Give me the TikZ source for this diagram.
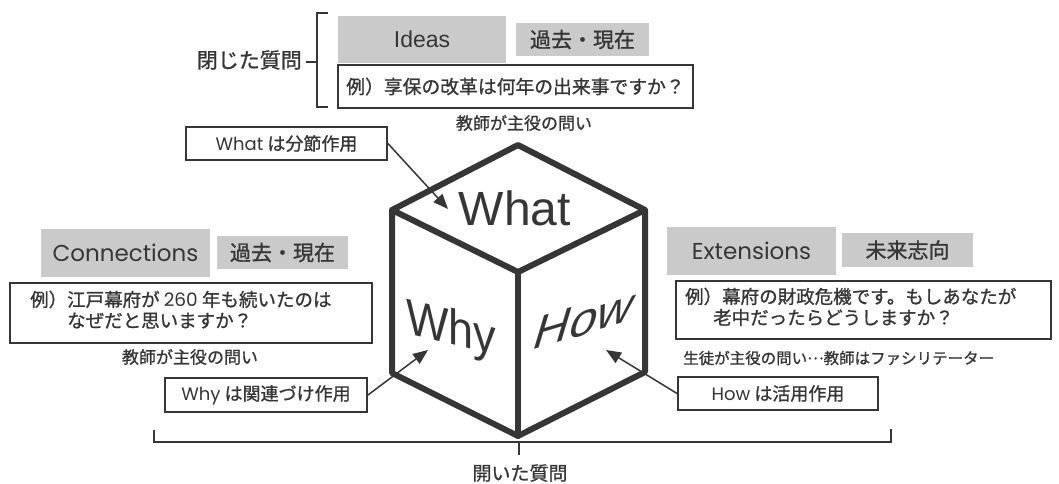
\documentclass[tikz,border=0pt]{standalone}
\usepackage{fontspec}
\setmainfont{Noto Sans CJK JP}[FakeBold=1.0]
\newfontfamily\pop{Poppins}
\newfontfamily\ari{Liberation Sans}
\usetikzlibrary{arrows.meta}
\definecolor{ink}{HTML}{363636}
\definecolor{boxgray}{HTML}{CACACA}
\newcommand{\fs}[1]{\fontsize{#1}{#1}\selectfont}
\begin{document}
\begin{tikzpicture}[x=1pt,y=-1pt,
  every node/.style={text=ink, inner sep=0pt},
  graybox/.style={fill=boxgray, draw=none},
  linebox/.style={draw=ink, line width=1.8pt, fill=white},
  conn/.style={draw=ink, line width=1.6pt},
  arr/.style={draw=ink, line width=1.5pt, -{Triangle[length=15pt,width=12pt]}},
  cube/.style={draw=ink, line width=6pt, line join=round, line cap=round},
  exline/.style={anchor=west, text height=14, text depth=3},
]
\useasboundingbox (0,0) rectangle (1059,483);

% ---------- top: closed question ----------
\node[graybox, minimum width=168, minimum height=47] (ideas) at (422,39.5) {\ari\fs{23}Ideas};
\node[graybox, minimum width=133, minimum height=33] (ideastime) at (582.5,39.5) {\fs{21}過去・現在};
\node[linebox, minimum width=355, minimum height=43] (ideasex) at (515.5,86.5) {\fs{18.8}例）享保の改革は何年の出来事ですか？};
\node[font=\fs{17}] (ideasrole) at (524,123) {教師が主役の問い};

\coordinate (cbt) at (328,13);
\coordinate (cbb) at (328,107);
\coordinate (cbm) at (317,62);
\node[anchor=east, font=\fs{21}] (closedq) at (302,60) {閉じた質問};
\draw[conn] (cbt) -- (317,13) -- (317,107) -- (cbb);
\draw[conn] (cbm) -- (306,62);

% ---------- cube ----------
\coordinate (T) at (518,145);
\coordinate (LT) at (392,210);
\coordinate (RT) at (645,210);
\coordinate (C) at (518,272);
\coordinate (LB) at (392,373);
\coordinate (RB) at (645,372);
\coordinate (B) at (518,436);
\draw[cube] (T) -- (RT) -- (RB) -- (B) -- (LB) -- (LT) -- cycle;
\draw[cube] (LT) -- (C) -- (RT);
\draw[cube] (C) -- (B);

\node[anchor=base, font=\ari\fs{48}] (whatlbl) at (515,225) {What};
\begin{scope}[shift={(451,344)}]
\node[anchor=base, font=\ari\fs{50}, xscale=0.9, yslant=-0.22] (whylbl) at (0,0) {Why};
\end{scope}
\begin{scope}[shift={(580,336)}]
\node[anchor=base, font=\ari\fs{49}, cm={1,0.3,0.3,1,(0,0)}] (howlbl) at (0,0) {How};
\end{scope}

% ---------- What label box ----------
\node[linebox, minimum width=201, minimum height=33] (whatbox) at (286.5,143.5) {\fs{18}{\pop What} は分節作用};
\coordinate (whattip) at (448,209);
\draw[arr] (whatbox.east) -- (whattip);

% ---------- left: Connections ----------
\node[graybox, minimum width=169, minimum height=48] (conn) at (125.5,253) {\pop\fs{23}Connections};
\node[graybox, minimum width=131, minimum height=33] (conntime) at (282.5,252.5) {\fs{21}過去・現在};
\node[linebox, minimum width=362, minimum height=60, anchor=north west] (connex) at (9,282) {};
\node[exline, font=\fs{18.5}] (connex1) at (30,301) {例）江戸幕府が {\pop 260} 年も続いたのは};
\node[exline, font=\fs{18.5}] (connex2) at (67,322) {なぜだと思いますか？};
\node[font=\fs{17}] (connrole) at (190,357) {教師が主役の問い};
\node[linebox, minimum width=202, minimum height=34] (whybox) at (266,395) {\fs{18}{\pop Why} は関連づけ作用};
\coordinate (whytip) at (428,350);
\draw[arr] (whybox.east) -- (whytip);

% ---------- right: Extensions ----------
\node[graybox, minimum width=169, minimum height=48] (ext) at (751.5,251) {\pop\fs{23}Extensions};
\node[graybox, minimum width=131, minimum height=34] (exttime) at (907.5,250) {\fs{21}未来志向};
\node[linebox, minimum width=375, minimum height=58, anchor=north west] (extex) at (675,280) {};
\node[exline, font=\fs{18.5}] (extex1) at (685,298) {例）幕府の財政危機です。もしあなたが};
\node[exline, font=\fs{18.5}] (extex2) at (713,319) {老中だったらどうしますか？};
\node[anchor=west, font=\fs{15.5}] (extrole) at (683,358) {生徒が主役の問い\raisebox{0.3em}{…}教師はファシリテーター};
\node[linebox, minimum width=200, minimum height=33] (howbox) at (778,393.5) {\fs{18}{\pop How} は活用作用};
\coordinate (howtip) at (606,350);
\draw[arr] (howbox.west) -- (howtip);

% ---------- bottom: open question ----------
\coordinate (obl) at (154,430);
\coordinate (obr) at (891,429);
\coordinate (obm) at (519,442);
\node[font=\fs{19}] (openq) at (520,473) {開いた質問};
\draw[conn] (obl) -- (154,442) -- (891,442) -- (obr);
\draw[conn] (obm) -- (519,455);
\end{tikzpicture}
\end{document}
